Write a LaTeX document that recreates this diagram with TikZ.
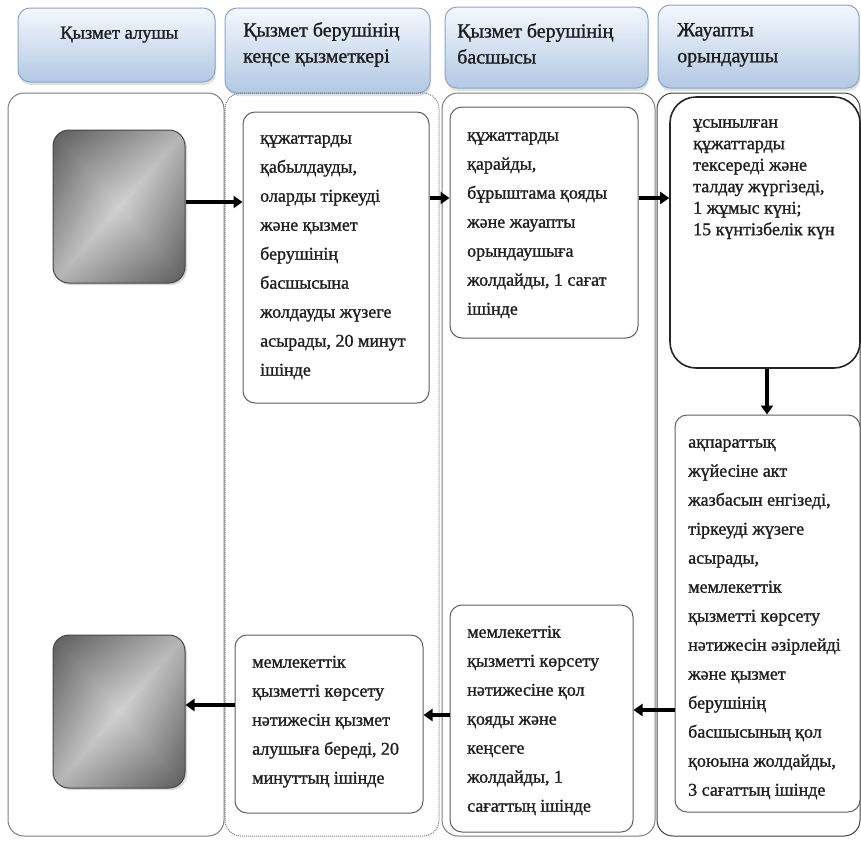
\documentclass[tikz,border=0pt]{standalone}
\usepackage{fontspec}
\setmainfont{Liberation Serif}
\newfontfamily\tms{Liberation Serif}[FakeBold=1.1]
\usetikzlibrary{arrows.meta,shadows}
\definecolor{hdrtop}{RGB}{244,248,253}
\definecolor{hdrbot}{RGB}{178,200,228}
\definecolor{hdrline}{RGB}{140,165,200}
\definecolor{laneline}{RGB}{125,125,125}
\definecolor{boxline}{RGB}{95,95,95}
\definecolor{txtcol}{RGB}{30,30,30}
\pgfdeclarefunctionalshading{gboxsh}{\pgfpoint{-50bp}{-50bp}}{\pgfpoint{50bp}{50bp}}{}{
  2 copy sub 50 div abs 0.46 mul 3 1 roll add 50 div abs 0.12 mul add 0.82 exch sub dup dup
}
\newcommand{\flh}{\rule{0pt}{12.5pt}}
\begin{document}
\begin{tikzpicture}[x=1pt,y=-1pt,
 hdr/.style={draw=hdrline, line width=1pt, rounded corners=12pt, top color=hdrtop, bottom color=hdrbot, drop shadow={opacity=0.25,shadow xshift=1pt,shadow yshift=-3pt}, inner sep=0},
 lane/.style={draw=laneline, line width=1pt, rounded corners=16pt, inner sep=0},
 dlane/.style={lane, densely dotted},
 pbox/.style={draw=boxline, line width=1pt, rounded corners=12pt, fill=white, inner sep=0},
 kbox/.style={draw=black!85, line width=1.6pt, rounded corners=26pt, fill=white, inner sep=0},
 gbox/.style={draw=gray!55!black, line width=1pt, rounded corners=16pt, shading=gboxsh, drop shadow={opacity=0.3,shadow xshift=2pt,shadow yshift=-2pt}, inner sep=0},
 htxt/.style={anchor=north west, inner sep=0, align=left, font=\tms\fontsize{20}{26}\selectfont, text=txtcol},
 txt/.style={anchor=north west, inner sep=0, align=left, font=\tms\fontsize{18}{29}\selectfont, text=txtcol},
 ttxt/.style={anchor=north west, inner sep=0, align=left, font=\tms\fontsize{18}{21.5}\selectfont, text=txtcol},
 flow/.style={line width=3.6pt, -{Triangle[length=9pt,width=12pt]}}
]
\useasboundingbox (0,0) rectangle (861,841);
% headers
\node[hdr, minimum width=197pt, minimum height=74pt] (H1) at (116.5,45) {};
\node[hdr, minimum width=205pt, minimum height=85pt] (H2) at (327.5,50.5) {};
\node[hdr, minimum width=203pt, minimum height=81pt] (H3) at (546.5,47.5) {};
\node[hdr, minimum width=201pt, minimum height=83pt] (H4) at (758.5,46.5) {};
\node[htxt, font=\tms\fontsize{18.5}{26}\selectfont] (H1t) at (60,26) {\flh Қызмет алушы};
\node[htxt] (H2t) at (243,22) {\flh Қызмет берушінің\\кеңсе қызметкері};
\node[htxt] (H3t) at (457,23) {\flh Қызмет берушінің\\басшысы};
\node[htxt] (H4t) at (677,23) {\flh Жауапты\\орындаушы};
% lanes
\node[lane, minimum width=216pt, minimum height=743pt] (L1) at (116,464.5) {};
\node[dlane, minimum width=214pt, minimum height=743pt] (L2) at (332,464.5) {};
\node[lane, minimum width=213pt, minimum height=743pt] (L3) at (548.5,464.5) {};
\node[lane, draw=black!75, minimum width=203pt, minimum height=743pt] (L4) at (758.5,464.5) {};
% start / end boxes
\node[gbox, minimum width=132pt, minimum height=153pt] (S1) at (119,206.5) {};
\node[gbox, minimum width=132pt, minimum height=153pt] (S2) at (119,711.5) {};
% process boxes
\node[pbox, minimum width=186pt, minimum height=291pt] (B1) at (336,257.5) {};
\node[pbox, minimum width=188pt, minimum height=231pt] (B2) at (544,222.5) {};
\node[kbox, minimum width=190pt, minimum height=271pt] (B3) at (765,232.5) {};
\node[pbox, minimum width=185pt, minimum height=397pt] (B4) at (767.5,613.5) {};
\node[pbox, minimum width=183pt, minimum height=227pt] (B5) at (541.5,718.5) {};
\node[pbox, minimum width=188pt, minimum height=178pt] (B6) at (329,724) {};
% texts
\node[txt] (B1t) at (260,131) {\flh құжаттарды\\қабылдауды,\\оларды тіркеуді\\және қызмет\\берушінің\\басшысына\\жолдауды жүзеге\\асырады, 20 минут\\ішінде};
\node[txt] (B2t) at (467,128) {\flh құжаттарды\\қарайды,\\бұрыштама қояды\\және жауапты\\орындаушыға\\жолдайды, 1 сағат\\ішінде};
\node[ttxt] (B3t) at (693,115) {\flh ұсынылған\\құжаттарды\\тексереді және\\талдау жүргізеді,\\1 жұмыс күні;\\15 күнтізбелік күн};
\node[txt] (B4t) at (688,435) {\flh ақпараттық\\жүйесіне акт\\жазбасын енгізеді,\\тіркеуді жүзеге\\асырады,\\мемлекеттік\\қызметті көрсету\\нәтижесін әзірлейді\\және қызмет\\берушінің\\басшысының қол\\қоюына жолдайды,\\3 сағаттың ішінде};
\node[txt] (B5t) at (467,625) {\flh мемлекеттік\\қызметті көрсету\\нәтижесіне қол\\қояды және\\кеңсеге\\жолдайды, 1\\сағаттың ішінде};
\node[txt] (B6t) at (252,655) {\flh мемлекеттік\\қызметті көрсету\\нәтижесін қызмет\\алушыға береді, 20\\минуттың ішінде};
% connectors
\draw[flow] (S1.east |- 0,202) -- (B1.west |- 0,202);
\draw[flow] (B1.east |- 0,198) -- (B2.west |- 0,198);
\draw[flow] (B2.east |- 0,198) -- (B3.west |- 0,198);
\draw[flow] (B3.south -| 767,0) -- (B4.north -| 767,0);
\draw[flow] (B4.west |- 0,710) -- (B5.east |- 0,710);
\draw[flow] (B5.west |- 0,715) -- (B6.east |- 0,715);
\draw[flow] (B6.west |- 0,705) -- (S2.east |- 0,705);
\end{tikzpicture}
\end{document}
